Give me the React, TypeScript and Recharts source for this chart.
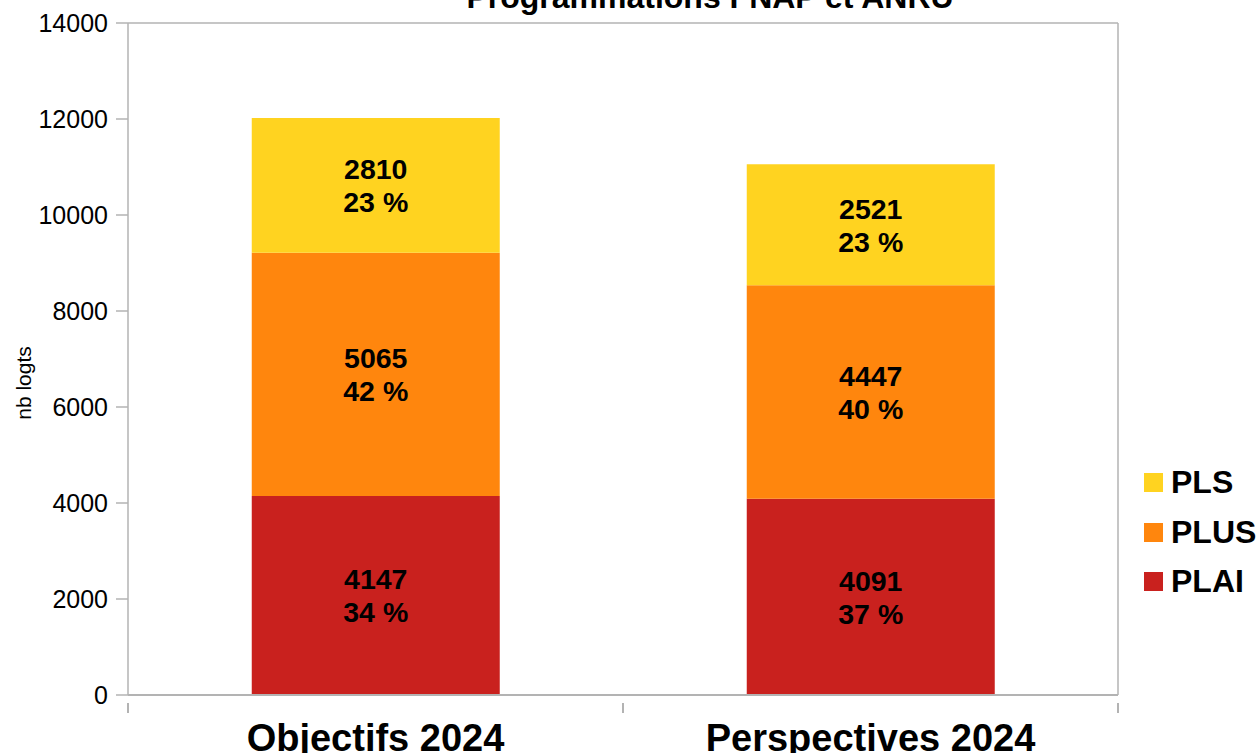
import { BarChart, Bar, XAxis, YAxis, CartesianGrid, LabelList } from 'recharts';

const categories = ['Objectifs 2024', 'Perspectives 2024'];
const plai = [4147, 4091];
const plus = [5065, 4447];
const pls = [2810, 2521];
const plaiPct = [34, 37];
const plusPct = [42, 40];
const plsPct = [23, 23];
const yTicks = [0, 2000, 4000, 6000, 8000, 10000, 12000, 14000];

const COLORS = {
  PLAI: '#c9211e',
  PLUS: '#ff860d',
  PLS: '#ffd320',
};

const FONT = '"Liberation Sans", Arial, sans-serif';
const GRID = '#b3b3b3';

const data = categories.map((name, i) => ({
  name,
  PLAI: plai[i],
  PLUS: plus[i],
  PLS: pls[i],
}));

const makeLabel = (pct: number[]) => (props: any) => {
  const { x, y, width, height, index, value } = props;
  const cx = x + width / 2;
  const cy = y + height / 2;
  return (
    <text
      x={cx}
      y={cy}
      textAnchor="middle"
      fontFamily={FONT}
      fontWeight="bold"
      fontSize={28.5}
      fill="#000"
    >
      <tspan x={cx} dy={-6}>{value}</tspan>
      <tspan x={cx} dy={33}>{pct[index]} %</tspan>
    </text>
  );
};

// boundary tick marks between categories, plus the label
const CategoryTick = (props: any) => {
  const { x, y, payload, width } = props;
  const band = (width ?? 990) / categories.length;
  return (
    <g>
      <line x1={x - band / 2} y1={y} x2={x - band / 2} y2={y + 10} stroke={GRID} strokeWidth={2} />
      <line x1={x + band / 2} y1={y} x2={x + band / 2} y2={y + 10} stroke={GRID} strokeWidth={2} />
      <text
        x={x}
        y={y + 48}
        textAnchor="middle"
        fontFamily={FONT}
        fontWeight="bold"
        fontSize={38}
        fill="#000"
      >
        {payload.value}
      </text>
    </g>
  );
};

const legendItems = [
  { name: 'PLS', color: COLORS.PLS },
  { name: 'PLUS', color: COLORS.PLUS },
  { name: 'PLAI', color: COLORS.PLAI },
];

const ChartLegend = () => (
  <div style={{ position: 'absolute', left: 1144, top: 458, width: 116, fontFamily: FONT, zIndex: 2 }}>
    {legendItems.map((item) => (
      <div key={item.name} style={{ display: 'flex', alignItems: 'center', height: 49.5 }}>
        <div style={{ width: 19, height: 19, background: item.color, marginRight: 8, flexShrink: 0 }}></div>
        <span style={{ fontSize: 32, fontWeight: 'bold', color: '#000', whiteSpace: 'nowrap' }}>{item.name}</span>
      </div>
    ))}
  </div>
);

export default function App() {
  return (
    <div style={{ position: 'absolute', left: 0, top: 0, width: 1260, height: 753, background: '#fff', overflow: 'hidden' }}>
      <div
        style={{
          position: 'absolute',
          left: 0,
          width: 1420,
          top: -21,
          textAlign: 'center',
          fontFamily: FONT,
          fontWeight: 'bold',
          fontSize: 32,
          color: '#000',
          zIndex: 2,
        }}
      >
        Programmations FNAP et ANRU
      </div>
      <div
        style={{
          position: 'absolute',
          left: 24,
          top: 383,
          transform: 'translate(-50%, -50%) rotate(-90deg)',
          fontFamily: FONT,
          fontSize: 21,
          color: '#000',
          whiteSpace: 'nowrap',
          zIndex: 2,
        }}
      >
        nb logts
      </div>
      <ChartLegend />
      <BarChart
        width={1260}
        height={753}
        data={data}
        margin={{ top: 23, right: 0, bottom: 0, left: 0 }}
        barCategoryGap="25%"
      >
        <CartesianGrid vertical={false} stroke={GRID} strokeWidth={1.5} />
        <XAxis
          dataKey="name"
          height={58}
          tickLine={false}
          axisLine={{ stroke: GRID, strokeWidth: 2 }}
          tick={<CategoryTick />}
          interval={0}
        />
        <YAxis
          yAxisId="left"
          width={128}
          domain={[0, 14000]}
          ticks={yTicks}
          tickSize={12}
          tickMargin={8}
          axisLine={{ stroke: GRID, strokeWidth: 1.5 }}
          tickLine={{ stroke: GRID, strokeWidth: 1.5 }}
          tick={{ fontFamily: FONT, fontSize: 25, fill: '#000' }}
          interval={0}
        />
        <YAxis
          yAxisId="right"
          orientation="right"
          width={142}
          domain={[0, 14000]}
          tick={false}
          tickLine={false}
          axisLine={{ stroke: GRID, strokeWidth: 1.5 }}
        />
        <Bar yAxisId="left" dataKey="PLAI" stackId="a" fill={COLORS.PLAI} isAnimationActive={false}>
          <LabelList dataKey="PLAI" content={makeLabel(plaiPct)} />
        </Bar>
        <Bar yAxisId="left" dataKey="PLUS" stackId="a" fill={COLORS.PLUS} isAnimationActive={false}>
          <LabelList dataKey="PLUS" content={makeLabel(plusPct)} />
        </Bar>
        <Bar yAxisId="left" dataKey="PLS" stackId="a" fill={COLORS.PLS} isAnimationActive={false}>
          <LabelList dataKey="PLS" content={makeLabel(plsPct)} />
        </Bar>
      </BarChart>
    </div>
  );
}
